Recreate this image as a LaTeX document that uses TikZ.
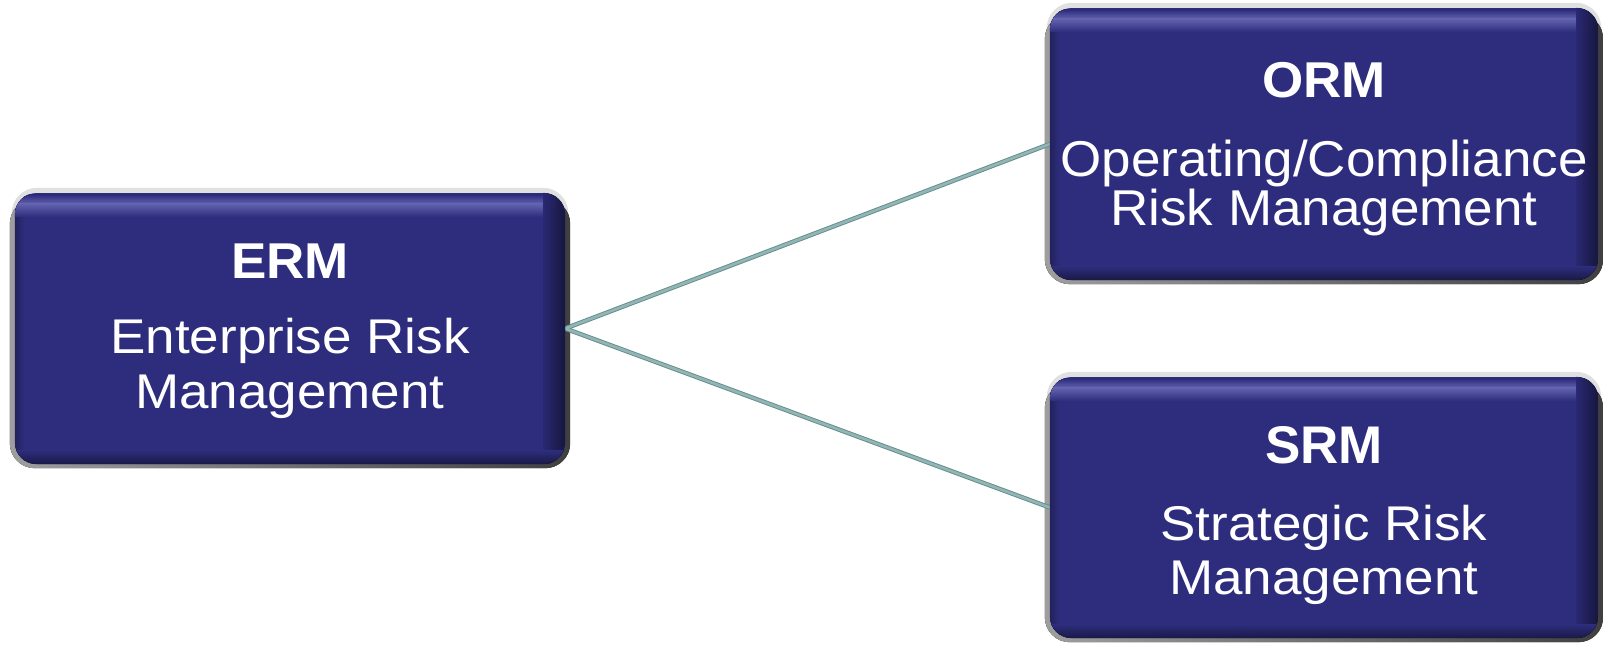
\documentclass[tikz,border=0pt]{standalone}
\usepackage{fontspec}
\setmainfont{Liberation Sans}
\usepackage{graphicx}
\usetikzlibrary{backgrounds}
\definecolor{boxblue}{RGB}{46,45,125}
\definecolor{hiblue}{RGB}{98,98,175}
\definecolor{linkc}{RGB}{145,182,182}
\definecolor{linkdark}{RGB}{105,140,140}
\begin{document}
\begin{tikzpicture}[x=1pt,y=-1pt,
  box/.style={rectangle, rounded corners=22pt, fill=boxblue, inner sep=0pt},
  ttl/.style={text=white, font=\bfseries\fontsize{53}{60}\selectfont, anchor=base, inner sep=0pt},
  bdy/.style={text=white, font=\fontsize{53}{60}\selectfont, anchor=base, inner sep=0pt},
  linkedge/.style={draw=linkdark, line width=4.5pt},
  link/.style={draw=linkc, line width=2.6pt}]
\useasboundingbox (0,0) rectangle (1603,646);
\node[box, minimum width=550pt, minimum height=271pt] (erm) at (290,328.5) {};
\node[box, minimum width=548pt, minimum height=272pt] (orm) at (1324,144) {};
\node[box, minimum width=548pt, minimum height=261pt] (srm) at (1324,507.5) {};
\foreach \n in {erm,orm,srm}{
  \begin{scope}[on background layer]
    \fill[black!12, rounded corners=25pt] ([xshift=-3pt,yshift=5pt]\n.north west) rectangle ([xshift=3pt]\n.south east);
    \fill[left color=black!38, right color=black!75, rounded corners=25pt] ([xshift=-5pt,yshift=-6pt]\n.north west) rectangle ([xshift=5pt,yshift=-4pt]\n.south east);
  \end{scope}
  \begin{scope}
    \clip[rounded corners=22pt] (\n.north west) rectangle (\n.south east);
    \fill[left color=boxblue!75!black, right color=boxblue] (\n.north west) rectangle ([xshift=10pt]\n.south west);
    \fill[top color=boxblue, bottom color=hiblue] ([yshift=-2pt]\n.north west) rectangle ([yshift=-11pt]\n.north east);
    \fill[top color=hiblue, bottom color=boxblue] ([yshift=-11pt]\n.north west) rectangle ([yshift=-24pt]\n.north east);
    \fill[left color=boxblue, right color=boxblue!55!black, opacity=0.9] ([xshift=-22pt]\n.north east) rectangle (\n.south east);
    \fill[top color=boxblue, bottom color=boxblue!55!black] ([yshift=14pt]\n.south west) rectangle (\n.south east);
  \end{scope}
}
\begin{scope}[on background layer]
  \draw[linkedge] (erm.east) -- (orm.west);
  \draw[linkedge] (erm.east) -- (srm.west);
  \draw[link] (erm.east) -- (orm.west);
  \draw[link] (erm.east) -- (srm.west);
\end{scope}
\node[ttl] (erm-t) at (290,278) {\scalebox{1}[0.95]{ERM}};
\node[bdy] (erm-1) at (290,353) {\scalebox{1}[0.92]{Enterprise Risk}};
\node[bdy] (erm-2) at (290,408) {\scalebox{1}[0.92]{Management}};
\node[ttl] (orm-t) at (1324,97) {\scalebox{1}[0.95]{ORM}};
\node[bdy] (orm-1) at (1324,176) {\scalebox{1}[0.95]{Operating/Compliance}};
\node[bdy] (orm-2) at (1324,225) {\scalebox{1}[0.95]{Risk Management}};
\node[ttl] (srm-t) at (1324,463) {\scalebox{1}[1]{SRM}};
\node[bdy] (srm-1) at (1324,540) {\scalebox{1}[0.92]{Strategic Risk}};
\node[bdy] (srm-2) at (1324,594) {\scalebox{1}[0.92]{Management}};
\end{tikzpicture}
\end{document}
